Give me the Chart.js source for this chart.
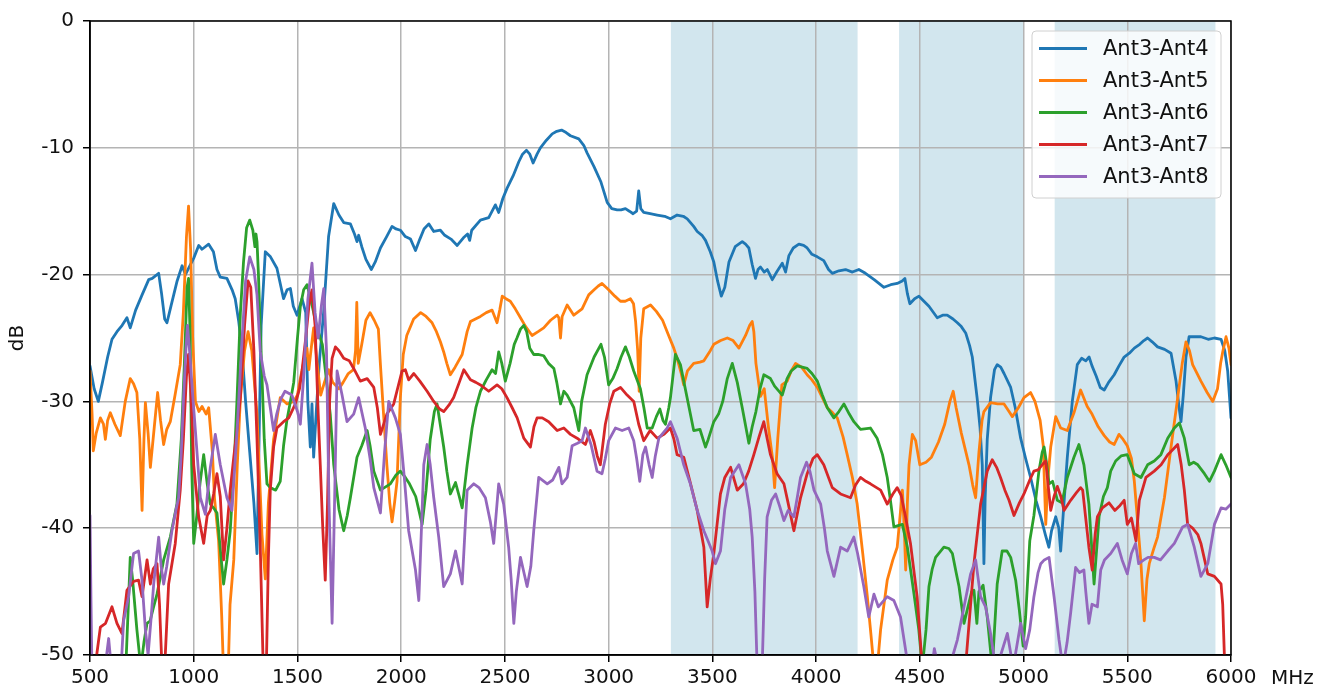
<!DOCTYPE html>
<html><head><meta charset="utf-8">
<script src="https://cdn.jsdelivr.net/npm/chart.js@4/dist/chart.umd.min.js"></script>
<style>html,body{margin:0;padding:0;background:#fff;overflow:hidden}canvas{display:block}</style>
</head><body>
<canvas id="c" width="1324" height="693" style="width:1324px;height:693px"></canvas>
<script>
// ---- data ----
const seriesNames = ['Ant3-Ant4','Ant3-Ant5','Ant3-Ant6','Ant3-Ant7','Ant3-Ant8'];
const seriesColors = ['#1f77b4','#ff7f0e','#2ca02c','#d62728','#9467bd'];
const xTicks = [500,1000,1500,2000,2500,3000,3500,4000,4500,5000,5500,6000];
const yTicks = [0,-10,-20,-30,-40,-50];
const bandStart = [3300,4400,5150];
const bandEnd = [4200,5000,5925];

const ant4F = [500,520,540,560,585,606,630,655,678,694,720,751,783,800,831,845,860,871,890,920,944,960,975,1000,1024,1040,1072,1095,1112,1128,1160,1185,1200,1217,1233,1250,1270,1290,1305,1315,1325,1345,1370,1401,1433,1450,1466,1480,1498,1522,1540,1550,1562,1570,1578,1590,1605,1626,1650,1675,1700,1723,1755,1775,1787,1795,1810,1830,1856,1875,1900,1930,1956,1975,1996,2020,2045,2069,2090,2110,2133,2157,2189,2210,2240,2270,2300,2320,2330,2340,2382,2422,2454,2470,2490,2510,2540,2567,2585,2604,2620,2636,2655,2671,2700,2728,2750,2773,2795,2816,2856,2880,2896,2930,2963,2993,3015,3041,3060,3081,3100,3118,3135,3145,3155,3169,3200,3234,3270,3298,3330,3360,3379,3410,3427,3450,3467,3490,3507,3525,3543,3560,3580,3610,3644,3660,3676,3692,3708,3720,3732,3750,3765,3789,3810,3837,3853,3869,3890,3917,3940,3957,3980,4006,4037,4060,4078,4110,4142,4175,4206,4238,4280,4327,4360,4391,4415,4428,4440,4452,4475,4496,4520,4544,4584,4610,4632,4660,4681,4700,4721,4740,4753,4776,4790,4801,4809,4815,4825,4841,4860,4873,4890,4906,4938,4960,4986,5010,5034,5060,5083,5105,5122,5135,5155,5170,5179,5195,5211,5235,5259,5280,5300,5316,5330,5350,5370,5389,5410,5437,5460,5485,5510,5534,5560,5580,5598,5620,5646,5680,5711,5735,5750,5759,5770,5783,5798,5830,5855,5890,5920,5952,5970,5984,6000];
const ant4V = [-27.2,-29,-30,-28.5,-26.5,-25.1,-24.5,-24,-23.4,-24.2,-22.8,-21.6,-20.4,-20.3,-19.9,-21.5,-23.5,-23.8,-22.5,-20.5,-19.3,-20,-19.5,-18.7,-17.7,-18,-17.6,-18.2,-19.6,-20.2,-20.3,-21.2,-21.9,-23.7,-26,-30,-34,-38,-42,-33,-24,-18.2,-18.6,-19.5,-21.9,-21.2,-21.1,-22.5,-23.2,-21.9,-23,-30,-33.6,-30.2,-34.4,-31,-27,-23,-17,-14.4,-15.3,-15.9,-16,-16.8,-17.4,-16.9,-17.8,-18.8,-19.6,-19,-17.9,-17,-16.2,-16.4,-16.5,-17,-17.2,-18.1,-17.2,-16.4,-16,-16.6,-16.5,-16.9,-17.2,-17.7,-17.1,-16.8,-17.3,-16.5,-15.7,-15.5,-14.5,-15.1,-14,-13.2,-12.2,-11.1,-10.5,-10.2,-10.5,-11.2,-10.5,-10,-9.4,-8.9,-8.7,-8.6,-8.8,-9.05,-9.3,-9.8,-10.4,-11.5,-12.7,-14.3,-14.8,-14.9,-14.9,-14.8,-15,-15.2,-15,-13.4,-14.8,-15.1,-15.2,-15.3,-15.4,-15.6,-15.3,-15.4,-15.6,-16.2,-16.6,-16.9,-17.3,-18.2,-19,-20.5,-21.7,-21,-19,-17.8,-17.4,-17.6,-17.9,-19.2,-20.3,-19.6,-19.4,-19.8,-19.6,-20.4,-19.8,-19.1,-19.8,-18.5,-17.9,-17.6,-17.7,-17.9,-18.4,-18.6,-18.9,-19.6,-19.9,-19.7,-19.6,-19.8,-19.6,-19.9,-20.4,-21,-20.8,-20.7,-20.5,-20.3,-21.5,-22.3,-21.9,-21.7,-22.1,-22.5,-23.4,-23.2,-23.2,-23.5,-23.8,-24.1,-24.6,-25.6,-26.5,-29.7,-32,-35,-42.8,-37.6,-33,-29.7,-27.5,-27.1,-27.3,-27.8,-28.9,-30.5,-32.9,-34.5,-36,-37.8,-39.1,-40.5,-41.5,-40.2,-39.1,-40,-41.8,-38,-34.4,-30,-27.1,-26.6,-26.8,-26.5,-27.2,-28,-28.9,-29.1,-28.5,-27.9,-27.2,-26.5,-26.2,-25.8,-25.5,-25.2,-25,-25.3,-25.7,-25.9,-26.2,-28.4,-30.5,-31.6,-29.5,-26.5,-24.9,-24.9,-24.9,-25.1,-25,-25.1,-26,-27.6,-31.3];

const ant5F = [500,510,516,530,550,565,574,585,598,620,646,670,694,710,726,740,751,760,767,780,791,810,826,840,855,870,887,910,935,950,965,975,985,995,1008,1025,1040,1060,1072,1090,1100,1120,1135,1145,1165,1175,1193,1210,1225,1245,1262,1280,1305,1329,1345,1360,1385,1417,1450,1482,1500,1514,1535,1546,1555,1565,1578,1595,1612,1630,1650,1670,1700,1720,1745,1770,1780,1786,1793,1810,1830,1850,1870,1890,1900,1915,1931,1945,1956,1968,1980,1996,2010,2027,2060,2094,2120,2149,2170,2189,2205,2220,2237,2260,2294,2318,2334,2382,2410,2438,2462,2475,2487,2505,2526,2550,2575,2600,2631,2660,2687,2720,2752,2760,2768,2776,2800,2832,2872,2904,2930,2950,2968,3000,3030,3057,3080,3105,3120,3130,3140,3147,3155,3169,3202,3230,3260,3282,3314,3330,3350,3362,3380,3410,3440,3459,3490,3507,3540,3572,3600,3628,3660,3680,3692,3700,3710,3732,3750,3770,3790,3800,3815,3835,3861,3880,3901,3930,3957,3980,4006,4030,4054,4080,4102,4130,4150,4175,4198,4225,4247,4265,4279,4295,4311,4343,4370,4391,4405,4416,4425,4432,4440,4448,4464,4480,4500,4530,4556,4590,4620,4645,4661,4675,4700,4737,4755,4769,4785,4800,4809,4841,4875,4906,4930,4946,4975,5002,5034,5055,5080,5095,5107,5118,5131,5155,5179,5211,5243,5275,5307,5330,5360,5389,5415,5437,5460,5480,5500,5520,5534,5550,5566,5582,5595,5606,5630,5646,5679,5711,5743,5765,5783,5800,5815,5855,5885,5912,5935,5950,5960,5976,5990,6000];
const ant5V = [-27.6,-31,-33.9,-32.5,-31.3,-31.8,-33,-31.5,-30.9,-31.8,-32.7,-30,-28.2,-28.6,-29.3,-33,-38.6,-33,-30.1,-32.5,-35.2,-32,-29.3,-31.5,-33.4,-32.2,-31.6,-29.5,-27.1,-23,-17,-14.6,-18,-25,-30,-30.8,-30.4,-31,-30.5,-34,-37.6,-41,-47,-52,-52,-46,-42.5,-35,-29.7,-26,-24.5,-26,-31,-40.5,-44,-38,-33,-29.7,-30.2,-30,-29.5,-28.2,-26.5,-25.8,-27.5,-26,-24.2,-27,-29.5,-28.5,-27.5,-28.5,-29,-28.5,-27.8,-27.5,-26,-22.2,-27,-25.5,-23.6,-23,-23.6,-24.3,-27.1,-31,-35,-38,-39.5,-38,-36.3,-29.7,-26.3,-24.8,-23.5,-23,-23.3,-23.8,-24.5,-25.3,-26.1,-27,-27.9,-27.3,-26.3,-24.5,-23.7,-23.3,-23,-22.8,-23.8,-22.8,-21.7,-21.9,-22.1,-22.7,-23.4,-24.1,-24.8,-24.5,-24.2,-23.6,-23.2,-23.4,-25,-23.3,-22.4,-23.2,-22.7,-21.6,-21.2,-20.9,-20.7,-21.2,-21.7,-22.1,-22.1,-21.9,-22.3,-23.7,-26,-29.2,-25,-22.7,-22.4,-22.9,-23.6,-24.5,-25.8,-26.6,-27.8,-28.7,-27.6,-27,-26.9,-26.8,-26,-25.5,-25.2,-25,-25.2,-25.8,-24.8,-24,-23.7,-24.5,-27,-29.6,-29,-32,-34.5,-36.8,-33,-28.7,-28.4,-27.6,-27,-27.3,-27.9,-28.3,-28.9,-29.7,-30.5,-30.9,-31.3,-32.8,-34.2,-36,-38.1,-42,-45.4,-48.5,-51,-51,-48,-44.1,-42.5,-41.5,-39,-37,-40,-43.3,-38,-35,-32.6,-33.1,-35,-34.8,-34.4,-33.2,-31.8,-30,-29.2,-30.5,-32.5,-35,-36.6,-37.6,-34,-31.5,-30.8,-30.1,-30.2,-30.2,-30.8,-31.2,-30.5,-29.7,-29.3,-30,-31.5,-33.5,-39.7,-36,-33.6,-31.2,-32.1,-32.3,-30.9,-29.1,-30.4,-31,-32,-32.7,-33.2,-33.4,-32.6,-33,-33.5,-34.5,-36.3,-39.5,-42.8,-47.3,-44,-42.8,-41.5,-40.7,-37.6,-33.6,-29.7,-27,-25.3,-26,-27.1,-28.4,-29.3,-30,-29,-27,-26.1,-24.9,-25.8,-27.1];

const ant6F = [670,685,694,705,726,745,760,775,790,805,823,855,887,919,940,955,968,975,983,990,1000,1015,1030,1048,1065,1080,1100,1112,1130,1144,1160,1176,1195,1209,1225,1240,1255,1270,1285,1295,1300,1305,1312,1320,1329,1340,1353,1369,1395,1417,1433,1449,1466,1482,1500,1514,1530,1546,1565,1594,1620,1634,1658,1675,1700,1723,1740,1755,1787,1810,1836,1850,1868,1900,1948,1975,1996,2020,2040,2070,2101,2120,2140,2160,2173,2190,2205,2220,2237,2262,2280,2294,2318,2342,2360,2382,2410,2438,2455,2470,2485,2502,2525,2545,2558,2575,2591,2605,2620,2639,2660,2687,2710,2736,2750,2768,2784,2800,2832,2856,2870,2896,2930,2963,2980,3000,3020,3041,3060,3081,3100,3121,3153,3170,3186,3210,3230,3247,3262,3274,3290,3298,3310,3322,3346,3378,3410,3440,3467,3480,3507,3530,3550,3572,3596,3620,3644,3676,3692,3710,3730,3748,3780,3800,3837,3860,3880,3909,3957,3980,4006,4030,4054,4086,4110,4134,4160,4182,4214,4262,4294,4320,4343,4360,4375,4416,4440,4472,4495,4512,4530,4544,4560,4576,4616,4640,4657,4675,4689,4713,4735,4750,4761,4775,4785,4805,4825,4849,4860,4873,4897,4920,4938,4962,4980,4998,5010,5030,5050,5074,5090,5099,5112,5123,5140,5163,5185,5211,5243,5267,5291,5315,5340,5364,5385,5404,5420,5444,5470,5500,5534,5566,5598,5630,5662,5695,5727,5751,5775,5799,5820,5840,5872,5896,5920,5952,5975,6000];
const ant6V = [-52,-46,-42.3,-44,-48,-51,-49,-47.5,-47.3,-46.3,-45.2,-42.5,-40.7,-38.1,-33,-27,-21,-20.3,-25,-35,-41.2,-39,-36.5,-34.2,-36.5,-38.1,-38.5,-38.8,-42,-44.4,-42.5,-40.2,-35,-29.7,-23,-19,-16.3,-15.7,-16.5,-17.8,-16.8,-17.4,-20,-24,-28,-33,-36.5,-36.8,-37,-36.3,-33.5,-31.5,-30,-28.5,-25,-22.5,-21.2,-20.8,-22,-24.2,-25.5,-27.5,-31,-35,-38.5,-40.2,-39,-37.6,-34.4,-33.5,-32.3,-33.5,-35.5,-37,-36.5,-35.8,-35.5,-36,-36.5,-37.5,-39.7,-37,-33,-30.8,-30.2,-32,-33.6,-35.5,-37.3,-36.4,-37.5,-38.4,-35,-32.1,-30.5,-29.2,-28.3,-27.5,-27.8,-26.1,-27,-28.4,-27,-25.5,-25,-24.3,-24,-24.5,-25.8,-26.3,-26.3,-26.4,-27,-27.4,-28.5,-30.2,-29.2,-29.5,-30.5,-32.3,-30,-27.9,-26.5,-25.5,-26.5,-28.7,-28.2,-27.4,-26.5,-25.7,-26.5,-27.6,-29,-30.5,-32.1,-32.1,-31.2,-30.6,-31.5,-31.8,-30.5,-29.7,-28,-26.3,-27.1,-29.7,-32.3,-32.2,-33.6,-33,-31.6,-31,-30,-28.2,-27,-28.5,-30.5,-33.3,-32,-30.8,-29,-27.9,-28.2,-28.8,-29.5,-28.2,-27.6,-27.2,-27.4,-27.8,-28.4,-29.5,-30.5,-31.3,-30.8,-30.2,-31,-31.6,-32.2,-32.1,-32.9,-34.2,-36,-38,-39.9,-39.7,-41.5,-45.2,-48,-51,-48,-44.6,-43.2,-42.3,-41.5,-41.6,-42,-43.5,-44.6,-47.5,-46,-45,-44.9,-47.5,-45,-44.5,-47,-51,-48,-44.4,-41.8,-41.8,-42.3,-44.1,-46.5,-49.3,-47,-41,-39,-35.5,-34,-33.6,-35,-36.5,-36.3,-37.8,-38,-36,-34.4,-33.4,-35,-38.1,-44.4,-39.1,-37.5,-36.8,-35.5,-34.7,-34.3,-34.2,-35.7,-36,-35,-34.7,-34.2,-32.9,-32.1,-31.7,-32.9,-35,-34.8,-35,-35.7,-36.3,-35.5,-34.2,-35,-36];

const ant7F = [500,525,533,550,575,606,630,654,678,710,734,751,775,791,805,823,835,847,860,879,911,935,950,965,975,985,1000,1024,1048,1065,1080,1096,1112,1128,1144,1160,1176,1193,1210,1225,1245,1262,1275,1290,1305,1320,1335,1350,1360,1369,1385,1401,1433,1458,1490,1510,1522,1540,1555,1570,1585,1600,1610,1622,1634,1645,1655,1667,1683,1700,1723,1750,1771,1803,1836,1868,1885,1900,1931,1964,2004,2020,2036,2061,2090,2125,2157,2185,2205,2230,2253,2280,2302,2334,2360,2382,2422,2462,2485,2510,2535,2559,2591,2623,2640,2655,2680,2711,2752,2784,2816,2848,2888,2912,2930,2945,2960,2984,3005,3025,3057,3089,3121,3145,3169,3200,3234,3266,3298,3315,3330,3362,3395,3427,3459,3475,3490,3507,3539,3560,3588,3620,3650,3675,3700,3725,3748,3765,3780,3812,3845,3865,3893,3925,3957,3985,4006,4037,4078,4118,4166,4190,4214,4240,4262,4311,4343,4370,4391,4410,4430,4455,4487,4512,4720,4740,4761,4793,4825,4849,4870,4889,4910,4930,4954,4980,5002,5030,5050,5070,5090,5107,5118,5131,5147,5163,5180,5195,5227,5255,5275,5285,5299,5315,5331,5345,5356,5380,5412,5440,5465,5485,5500,5520,5542,5558,5590,5630,5663,5695,5720,5743,5760,5775,5791,5815,5840,5855,5888,5920,5952,5960,5968,5975,6000];
const ant7V = [-52,-52,-49.9,-47.8,-47.5,-46.2,-47.5,-48.3,-44.9,-44.2,-44.1,-45.4,-42.5,-44.4,-43.2,-42.8,-46,-51,-51,-44.4,-41.2,-37,-33,-28,-26.3,-29,-35,-39.1,-41.2,-39,-38.6,-37.3,-35.7,-37.5,-42.5,-40,-37,-34.4,-32,-29.7,-24,-20.5,-21,-26,-33,-41,-51,-51,-42.3,-37,-33.6,-32.1,-31.6,-31.3,-30.2,-29,-27.6,-25,-22.5,-21.2,-24,-31,-35,-40,-44.1,-38,-30,-26.6,-25.7,-26,-26.6,-26.8,-27.4,-28.4,-28.2,-28.9,-30.5,-32.6,-31,-30.2,-27.6,-27.5,-28.3,-27.8,-28.4,-29.2,-30,-30.6,-30.8,-30.3,-29.7,-28.5,-27.5,-28.3,-28.5,-28.7,-29.2,-28.7,-29,-29.7,-30.5,-31.3,-32.9,-33.6,-32,-31.3,-31.3,-31.6,-32.3,-32.1,-32.6,-32.9,-33.4,-32.3,-33.2,-34.3,-35,-31.8,-30.2,-29.2,-28.9,-29.5,-30,-31.8,-33.1,-32.3,-32.9,-32.6,-32.1,-33,-34.2,-34.4,-36.5,-38.6,-41.5,-46.2,-44,-42,-37.3,-36,-35.2,-37,-36.5,-35.5,-34.2,-32.8,-31.6,-33,-34.2,-35.7,-36.5,-38,-40.2,-37.6,-35.7,-34.5,-34.2,-35,-36.8,-37.3,-37.6,-36.6,-36,-36.3,-36.5,-37,-38.1,-37.3,-36.8,-37.4,-39,-41.2,-45.4,-51,-51,-47,-42.8,-38.1,-35.5,-34.6,-35.2,-36,-37,-37.8,-39,-38,-37.3,-36.2,-35.5,-35.4,-35,-34.7,-36.5,-38.6,-37.5,-36.7,-37.5,-38.6,-37.8,-37.2,-36.8,-37,-39.1,-41.5,-43.3,-40.5,-39.1,-38.4,-38,-38.6,-38.2,-37.8,-39.7,-39.2,-41,-37.8,-36,-35.5,-35,-34.2,-33.8,-33.4,-35,-37,-39.7,-40,-40.5,-41.2,-43.6,-43.8,-44.4,-46,-50,-52,-52];

const ant8F = [500,505,510,570,580,590,600,650,662,686,710,734,750,767,780,795,807,831,843,855,870,895,915,927,940,951,962,970,980,995,1008,1032,1056,1080,1104,1128,1160,1184,1209,1230,1250,1270,1290,1305,1321,1340,1353,1385,1400,1420,1440,1473,1500,1514,1530,1550,1570,1585,1600,1615,1627,1640,1652,1667,1680,1691,1715,1739,1771,1795,1827,1850,1868,1900,1920,1940,1972,1996,2015,2036,2069,2085,2100,2109,2125,2140,2157,2181,2205,2237,2262,2294,2305,2318,2350,2375,2406,2430,2446,2470,2494,2518,2530,2543,2555,2575,2607,2625,2639,2663,2704,2730,2760,2775,2800,2824,2850,2872,2888,2915,2944,2968,2984,3000,3033,3065,3097,3121,3135,3150,3165,3178,3195,3210,3225,3242,3282,3298,3330,3362,3394,3427,3459,3499,3515,3539,3560,3588,3628,3660,3680,3692,3705,3716,3740,3752,3764,3785,3805,3825,3845,3865,3893,3910,3925,3954,3970,3990,4022,4040,4054,4086,4118,4150,4182,4200,4230,4254,4279,4300,4343,4375,4407,4440,4460,4550,4570,4590,4630,4660,4681,4713,4745,4769,4793,4817,4841,4865,4890,4922,4950,4986,5010,5030,5050,5070,5083,5100,5123,5147,5171,5190,5210,5227,5251,5270,5291,5300,5315,5330,5356,5372,5390,5420,5452,5475,5500,5520,5540,5555,5580,5600,5630,5660,5695,5727,5767,5791,5823,5855,5888,5920,5952,5975,6000];
const ant8V = [-39,-46,-52,-52,-50,-48.7,-50.5,-51,-47.3,-45.4,-42,-41.8,-44,-48,-50,-47,-44.4,-40.7,-43,-44.4,-43,-40.2,-38.5,-37.6,-34,-29.7,-26,-24,-26,-29.5,-32.3,-37.6,-38.9,-35.2,-32.6,-35,-37.6,-38.6,-32.3,-26,-20.5,-18.6,-19.6,-21.6,-26.1,-28,-28.7,-32.3,-31,-29.8,-29.2,-29.5,-30.8,-31.8,-28,-22,-19.1,-23,-25,-22.5,-21.1,-26,-38,-47.5,-37,-27.6,-29.5,-31.6,-31,-29.7,-32.1,-34.5,-36.8,-38.8,-34,-30,-31.3,-32.6,-36,-40.2,-43.3,-45.7,-39,-35,-33.4,-35,-37.6,-40.7,-44.6,-43.6,-41.8,-44.4,-41,-37,-36.5,-36.8,-37.6,-39.5,-41.2,-36.5,-38.1,-41.5,-44,-47.5,-45,-42.3,-44.6,-43,-40.2,-36,-36.5,-36.2,-35.2,-36.5,-36,-33.5,-33.3,-33.1,-32.1,-33.4,-35.5,-35.7,-34.5,-33.1,-32.1,-32.3,-32.1,-33.1,-34.5,-36.3,-34.2,-33.6,-35,-36,-34.3,-32.9,-32.1,-31.6,-32.9,-35,-36.5,-38.6,-40.2,-41.8,-42.8,-41.8,-38.5,-36,-35,-36.5,-38.5,-40.7,-45,-51,-51,-44,-39.1,-37.8,-37.3,-38.3,-39.4,-38.6,-39.1,-37.5,-36,-34.8,-35.5,-37,-38.1,-40,-41.8,-43.8,-41.5,-41.8,-40.7,-42,-44.6,-47,-45.2,-46.2,-45.4,-45.7,-47,-50.5,-52,-52,-49.5,-51,-52,-50,-48.8,-46.2,-43.6,-42.5,-45.4,-46.2,-48.3,-51,-50,-48.3,-51,-47.5,-49.5,-48,-45.4,-43.5,-42.8,-42.5,-42.3,-45.4,-48.8,-51,-49,-46.7,-43.1,-43.5,-43.3,-45,-47.5,-46,-46.2,-43.3,-42.5,-42,-41.2,-42.5,-43.6,-42,-41.2,-42.8,-42.5,-42.3,-42.3,-42.5,-41.8,-41.2,-39.9,-39.7,-41.5,-43.8,-42.8,-39.7,-38.4,-38.5,-38.1];

const seriesF = [ant4F, ant5F, ant6F, ant7F, ant8F];
const seriesV = [ant4V, ant5V, ant6V, ant7V, ant8V];

// ---- chart ----
const FONT = "'DejaVu Sans', sans-serif";
Chart.defaults.font.family = FONT;
Chart.defaults.font.size = 20;
Chart.defaults.color = '#111';

const datasets = seriesNames.map((name, i) => ({
  label: name,
  data: seriesF[i].map((f, k) => ({x: f, y: seriesV[i][k]})),
  borderColor: seriesColors[i],
  backgroundColor: seriesColors[i],
  borderWidth: 2.8,
  pointRadius: 0,
  tension: 0,
  fill: false,
  order: seriesNames.length - i,
  borderJoinStyle: 'round',
  borderCapStyle: 'round'
}));

const bandsPlugin = {
  id: 'bands',
  beforeDraw(chart) {
    const {ctx, chartArea: a, scales: {x}} = chart;
    ctx.save();
    ctx.fillStyle = 'rgb(210,230,238)';
    for (let i = 0; i < bandStart.length; i++) {
      const x0 = x.getPixelForValue(bandStart[i]);
      const x1 = x.getPixelForValue(bandEnd[i]);
      ctx.fillRect(x0, a.top, x1 - x0, a.bottom - a.top);
    }
    ctx.restore();
  }
};

const decorPlugin = {
  id: 'decor',
  afterDraw(chart) {
    const {ctx, chartArea: a} = chart;
    ctx.save();
    // frame
    ctx.strokeStyle = '#000';
    ctx.lineWidth = 1.5;
    ctx.strokeRect(a.left, a.top, a.right - a.left, a.bottom - a.top);
    // legend
    const bx = a.right - 199, by = a.top + 10, bw = 189, bh = 167;
    ctx.fillStyle = 'rgba(255,255,255,0.8)';
    ctx.strokeStyle = '#d0d0d0';
    ctx.lineWidth = 1;
    ctx.beginPath();
    ctx.roundRect(bx, by, bw, bh, 4);
    ctx.fill();
    ctx.stroke();
    ctx.font = '21px ' + FONT;
    ctx.textBaseline = 'middle';
    ctx.textAlign = 'left';
    chart.data.datasets.forEach((ds, i) => {
      const yy = by + 17.5 + i * 32;
      ctx.strokeStyle = ds.borderColor;
      ctx.lineWidth = 2.8;
      ctx.beginPath();
      ctx.moveTo(bx + 7, yy);
      ctx.lineTo(bx + 55, yy);
      ctx.stroke();
      ctx.fillStyle = '#111';
      ctx.fillText(ds.label, bx + 71, yy + 1);
    });
    // x-axis unit
    ctx.font = '20px ' + FONT;
    ctx.fillStyle = '#111';
    ctx.fillText('MHz', a.right + 40, a.bottom + 24);
    ctx.restore();
  }
};

new Chart(document.getElementById('c'), {
  type: 'line',
  data: {datasets},
  options: {
    responsive: false,
    animation: false,
    devicePixelRatio: 1,
    layout: {padding: {top: 18, right: 93, bottom: 0, left: 0}},
    plugins: {legend: {display: false}, tooltip: {enabled: false}},
    scales: {
      x: {
        type: 'linear', min: 500, max: 6000,
        afterBuildTicks(s) { s.ticks = xTicks.map(v => ({value: v})); },
        afterFit(s) { s.height = 38; },
        ticks: {color: '#111', padding: 4, maxRotation: 0, autoSkip: false, callback: v => String(v)},
        grid: {color: '#b4b4b4', lineWidth: 1.5, tickColor: '#000', tickLength: 7, tickWidth: 1.5},
        border: {color: '#000', width: 1.5}
      },
      y: {
        type: 'linear', min: -50, max: 0,
        afterBuildTicks(s) { s.ticks = yTicks.map(v => ({value: v})); },
        afterFit(s) { s.width = 90; },
        ticks: {color: '#111', padding: 9, autoSkip: false, callback: v => String(v)},
        grid: {color: '#b4b4b4', lineWidth: 1.5, tickColor: '#000', tickLength: 7, tickWidth: 1.5},
        border: {color: '#000', width: 1.5},
        title: {display: true, text: 'dB', color: '#111', font: {size: 20}, padding: {top: 6, bottom: 0}}
      }
    }
  },
  plugins: [bandsPlugin, decorPlugin]
});
</script>
</body></html>
